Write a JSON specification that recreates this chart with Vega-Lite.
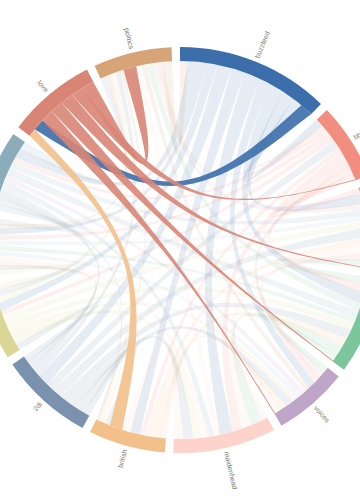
{
  "$schema": "https://vega.github.io/schema/vega-lite/v6.json",
  "width": 360,
  "height": 500,
  "padding": 0,
  "autosize": {"type": "none"},
  "background": "white",
  "config": {"view": {"stroke": null}},
  "data": {"values": [
    {"id":1,"g":"buzzfeed","p":"politics","v":5},{"id":2,"g":"buzzfeed","p":"election","v":7},{"id":3,"g":"buzzfeed","p":"tories","v":5},{"id":4,"g":"buzzfeed","p":"labour","v":6},{"id":5,"g":"buzzfeed","p":"2di","v":9},{"id":6,"g":"buzzfeed","p":"british","v":8},{"id":7,"g":"buzzfeed","p":"maidenhead","v":10},{"id":8,"g":"buzzfeed","p":"voices","v":7},{"id":9,"g":"buzzfeed","p":"london","v":9},{"id":10,"g":"buzzfeed","p":"uk","v":8},{"id":11,"g":"buzzfeed","p":"bbc","v":6},{"id":12,"g":"buzzfeed","p":"love","v":8},
    {"id":13,"g":"bbc","p":"buzzfeed","v":5},{"id":14,"g":"bbc","p":"politics","v":2.5},{"id":15,"g":"bbc","p":"election","v":3},{"id":16,"g":"bbc","p":"tories","v":3},{"id":17,"g":"bbc","p":"labour","v":3},{"id":18,"g":"bbc","p":"2di","v":5},{"id":19,"g":"bbc","p":"british","v":3},{"id":20,"g":"bbc","p":"maidenhead","v":6},{"id":21,"g":"bbc","p":"voices","v":4},{"id":22,"g":"bbc","p":"london","v":5},{"id":23,"g":"bbc","p":"uk","v":4},{"id":24,"g":"bbc","p":"love","v":0.5},
    {"id":25,"g":"uk","p":"bbc","v":4},{"id":26,"g":"uk","p":"buzzfeed","v":6},{"id":27,"g":"uk","p":"politics","v":3.5},{"id":28,"g":"uk","p":"election","v":4},{"id":29,"g":"uk","p":"tories","v":3},{"id":30,"g":"uk","p":"labour","v":4},{"id":31,"g":"uk","p":"2di","v":6},{"id":32,"g":"uk","p":"british","v":4},{"id":33,"g":"uk","p":"maidenhead","v":6},{"id":34,"g":"uk","p":"voices","v":4},{"id":35,"g":"uk","p":"london","v":5},{"id":36,"g":"uk","p":"love","v":0.5},
    {"id":37,"g":"london","p":"uk","v":5},{"id":38,"g":"london","p":"bbc","v":5},{"id":39,"g":"london","p":"buzzfeed","v":7},{"id":40,"g":"london","p":"politics","v":4.5},{"id":41,"g":"london","p":"election","v":5},{"id":42,"g":"london","p":"tories","v":3},{"id":43,"g":"london","p":"labour","v":4},{"id":44,"g":"london","p":"2di","v":6},{"id":45,"g":"london","p":"british","v":5},{"id":46,"g":"london","p":"maidenhead","v":7},{"id":47,"g":"london","p":"voices","v":4},{"id":48,"g":"london","p":"love","v":0.5},
    {"id":49,"g":"voices","p":"london","v":4},{"id":50,"g":"voices","p":"uk","v":4},{"id":51,"g":"voices","p":"bbc","v":4},{"id":52,"g":"voices","p":"buzzfeed","v":5},{"id":53,"g":"voices","p":"politics","v":3},{"id":54,"g":"voices","p":"election","v":3.5},{"id":55,"g":"voices","p":"tories","v":3},{"id":56,"g":"voices","p":"labour","v":3},{"id":57,"g":"voices","p":"2di","v":5},{"id":58,"g":"voices","p":"british","v":4},{"id":59,"g":"voices","p":"maidenhead","v":4},{"id":60,"g":"voices","p":"love","v":0.5},
    {"id":61,"g":"maidenhead","p":"voices","v":4},{"id":62,"g":"maidenhead","p":"london","v":7},{"id":63,"g":"maidenhead","p":"uk","v":6},{"id":64,"g":"maidenhead","p":"bbc","v":6},{"id":65,"g":"maidenhead","p":"buzzfeed","v":8},{"id":66,"g":"maidenhead","p":"politics","v":3},{"id":67,"g":"maidenhead","p":"election","v":4},{"id":68,"g":"maidenhead","p":"tories","v":4},{"id":69,"g":"maidenhead","p":"labour","v":5},{"id":70,"g":"maidenhead","p":"2di","v":6},{"id":71,"g":"maidenhead","p":"british","v":6},
    {"id":72,"g":"british","p":"voices","v":4},{"id":73,"g":"british","p":"london","v":5},{"id":74,"g":"british","p":"uk","v":4},{"id":75,"g":"british","p":"bbc","v":3},{"id":76,"g":"british","p":"buzzfeed","v":6},{"id":77,"g":"british","p":"maidenhead","v":5},{"id":78,"g":"british","p":"love","v":8},{"id":79,"g":"british","p":"2di","v":3},{"id":80,"g":"british","p":"labour","v":2},{"id":81,"g":"british","p":"tories","v":2},{"id":82,"g":"british","p":"election","v":1},{"id":83,"g":"british","p":"politics","v":1},
    {"id":84,"g":"2di","p":"british","v":4},{"id":85,"g":"2di","p":"maidenhead","v":6},{"id":86,"g":"2di","p":"voices","v":5},{"id":87,"g":"2di","p":"london","v":6},{"id":88,"g":"2di","p":"uk","v":6},{"id":89,"g":"2di","p":"bbc","v":5},{"id":90,"g":"2di","p":"buzzfeed","v":7},{"id":91,"g":"2di","p":"politics","v":3},{"id":92,"g":"2di","p":"election","v":4},{"id":93,"g":"2di","p":"tories","v":4},{"id":94,"g":"2di","p":"labour","v":4},
    {"id":95,"g":"labour","p":"2di","v":4},{"id":96,"g":"labour","p":"british","v":3},{"id":97,"g":"labour","p":"maidenhead","v":5},{"id":98,"g":"labour","p":"voices","v":3},{"id":99,"g":"labour","p":"london","v":4},{"id":100,"g":"labour","p":"uk","v":4},{"id":101,"g":"labour","p":"bbc","v":3},{"id":102,"g":"labour","p":"buzzfeed","v":5},{"id":103,"g":"labour","p":"politics","v":4},{"id":104,"g":"labour","p":"election","v":4},{"id":105,"g":"labour","p":"tories","v":4},
    {"id":106,"g":"tories","p":"labour","v":4},{"id":107,"g":"tories","p":"2di","v":3},{"id":108,"g":"tories","p":"british","v":2},{"id":109,"g":"tories","p":"maidenhead","v":4},{"id":110,"g":"tories","p":"voices","v":3},{"id":111,"g":"tories","p":"london","v":3},{"id":112,"g":"tories","p":"uk","v":3},{"id":113,"g":"tories","p":"bbc","v":3},{"id":114,"g":"tories","p":"buzzfeed","v":4},{"id":115,"g":"tories","p":"politics","v":3},{"id":116,"g":"tories","p":"election","v":4},
    {"id":117,"g":"election","p":"tories","v":4},{"id":118,"g":"election","p":"labour","v":4},{"id":119,"g":"election","p":"2di","v":4},{"id":120,"g":"election","p":"british","v":3},{"id":121,"g":"election","p":"maidenhead","v":4},{"id":122,"g":"election","p":"voices","v":3},{"id":123,"g":"election","p":"london","v":5},{"id":124,"g":"election","p":"uk","v":4},{"id":125,"g":"election","p":"bbc","v":3},{"id":126,"g":"election","p":"buzzfeed","v":6},{"id":127,"g":"election","p":"politics","v":5},
    {"id":128,"g":"love","p":"british","v":5},{"id":129,"g":"love","p":"buzzfeed","v":7},{"id":130,"g":"love","p":"voices","v":8},{"id":131,"g":"love","p":"london","v":8},{"id":132,"g":"love","p":"uk","v":8},{"id":133,"g":"love","p":"bbc","v":7},{"id":134,"g":"love","p":"politics","v":8},
    {"id":135,"g":"politics","p":"election","v":4},{"id":136,"g":"politics","p":"tories","v":3},{"id":137,"g":"politics","p":"labour","v":3},{"id":138,"g":"politics","p":"2di","v":3},{"id":139,"g":"politics","p":"british","v":2},{"id":140,"g":"politics","p":"love","v":8},{"id":141,"g":"politics","p":"maidenhead","v":3},{"id":142,"g":"politics","p":"voices","v":3},{"id":143,"g":"politics","p":"london","v":4},{"id":144,"g":"politics","p":"uk","v":3},{"id":145,"g":"politics","p":"bbc","v":3},{"id":146,"g":"politics","p":"buzzfeed","v":6}
  ]},
  "transform": [
    {"window": [{"op": "lag", "field": "g", "as": "pg"}], "sort": [{"field": "id"}]},
    {"calculate": "datum.g === datum.pg ? 0 : 1", "as": "nw"},
    {"window": [{"op": "sum", "field": "nw", "as": "gi"}, {"op": "sum", "field": "v", "as": "cum"}], "sort": [{"field": "id"}], "frame": [null, 0]},
    {"joinaggregate": [{"op": "sum", "field": "v", "as": "tot"}, {"op": "max", "field": "gi", "as": "ng"}]},
    {"calculate": "(2*PI - datum.ng*0.0418879)/datum.tot", "as": "K"},
    {"calculate": "(datum.cum - datum.v)*datum.K + (datum.gi - 1)*0.0418879", "as": "a0"},
    {"calculate": "datum.cum*datum.K + (datum.gi - 1)*0.0418879", "as": "a1"}
  ],
  "layer": [
    {
      "transform": [
        {"calculate": "datum.g < datum.p ? datum.g + '|' + datum.p : datum.p + '|' + datum.g", "as": "key"},
        {"window": [{"op": "last_value", "field": "a0", "as": "b0"}, {"op": "last_value", "field": "a1", "as": "b1"}, {"op": "last_value", "field": "v", "as": "ov"}], "groupby": ["key"], "sort": [{"field": "g"}], "frame": [null, null]},
        {"filter": "datum.g < datum.p"},
        {"filter": "datum.g !== 'love' && datum.p !== 'love'"},
        {"calculate": "datum.v >= datum.ov ? datum.g : datum.p", "as": "cg"},
        {"calculate": "[0,0,0,1,1,1,2,3,3,3,4,4,4,5,0,0,0]", "as": "k"},
        {"calculate": "[0,1,2,3,4,5,6,7,8,9,10,11,12,13,14,15,16]", "as": "o"},
        {"flatten": ["k", "o"]},
        {"calculate": "datum.k === 0 ? datum.a0 : datum.k === 1 ? datum.a1 : datum.k === 3 ? datum.b0 : datum.b1", "as": "ang"},
        {"calculate": "datum.k === 2 ? 189*(sin(datum.a1)+sin(datum.b0))/8 : datum.k === 5 ? 189*(sin(datum.b1)+sin(datum.a0))/8 : 189*sin(datum.ang)", "as": "x"},
        {"calculate": "datum.k === 2 ? 189*(cos(datum.a1)+cos(datum.b0))/8 : datum.k === 5 ? 189*(cos(datum.b1)+cos(datum.a0))/8 : 189*cos(datum.ang)", "as": "y"}
      ],
      "mark": {"type": "line", "filled": true, "interpolate": "basis", "strokeWidth": 0},
      "encoding": {
        "x": {"field": "x", "type": "quantitative", "scale": {"domain": [-180, 180], "nice": false, "zero": false}, "axis": null},
        "y": {"field": "y", "type": "quantitative", "scale": {"domain": [-250, 250], "nice": false, "zero": false}, "axis": null},
        "detail": {"field": "key"},
        "order": {"field": "o", "type": "quantitative"},
        "color": {"field": "cg", "type": "nominal", "legend": null,
          "scale": {"domain": ["buzzfeed","bbc","uk","london","voices","maidenhead","british","2di","labour","tories","election","love","politics"],
                    "range": ["#3b6eaa","#f28e7f","#e9a3a6","#7cc69b","#bfa6c9","#fdd3cc","#f3c08b","#7a92ad","#dbd596","#afc7d8","#8badb9","#d98575","#d6a476"]}},
        "opacity": {"value": 0.13}
      }
    },
    {
      "transform": [
        {"calculate": "datum.g < datum.p ? datum.g + '|' + datum.p : datum.p + '|' + datum.g", "as": "key"},
        {"window": [{"op": "last_value", "field": "a0", "as": "b0"}, {"op": "last_value", "field": "a1", "as": "b1"}, {"op": "last_value", "field": "v", "as": "ov"}], "groupby": ["key"], "sort": [{"field": "g"}], "frame": [null, null]},
        {"filter": "datum.g < datum.p"},
        {"filter": "datum.g === 'love' || datum.p === 'love'"},
        {"calculate": "datum.v >= datum.ov ? datum.g : datum.p", "as": "cg"},
        {"calculate": "[0,0,0,1,1,1,2,3,3,3,4,4,4,5,0,0,0]", "as": "k"},
        {"calculate": "[0,1,2,3,4,5,6,7,8,9,10,11,12,13,14,15,16]", "as": "o"},
        {"flatten": ["k", "o"]},
        {"calculate": "datum.k === 0 ? datum.a0 : datum.k === 1 ? datum.a1 : datum.k === 3 ? datum.b0 : datum.b1", "as": "ang"},
        {"calculate": "datum.k === 2 ? 189*(sin(datum.a1)+sin(datum.b0))/8 : datum.k === 5 ? 189*(sin(datum.b1)+sin(datum.a0))/8 : 189*sin(datum.ang)", "as": "x"},
        {"calculate": "datum.k === 2 ? 189*(cos(datum.a1)+cos(datum.b0))/8 : datum.k === 5 ? 189*(cos(datum.b1)+cos(datum.a0))/8 : 189*cos(datum.ang)", "as": "y"}
      ],
      "mark": {"type": "line", "filled": true, "interpolate": "basis", "strokeWidth": 0},
      "encoding": {
        "x": {"field": "x", "type": "quantitative"},
        "y": {"field": "y", "type": "quantitative"},
        "detail": {"field": "key"},
        "order": {"field": "o", "type": "quantitative"},
        "color": {"field": "cg", "type": "nominal", "legend": null},
        "opacity": {"value": 0.9}
      }
    },
    {
      "transform": [
        {"aggregate": [{"op": "min", "field": "a0", "as": "ga0"}, {"op": "max", "field": "a1", "as": "ga1"}], "groupby": ["g"]}
      ],
      "mark": {"type": "arc", "outerRadius": 203, "innerRadius": 189},
      "encoding": {
        "theta": {"field": "ga0", "type": "quantitative", "stack": null, "scale": {"domain": [0, 6.283185307179586], "range": [0, 6.283185307179586]}},
        "theta2": {"field": "ga1"},
        "color": {"field": "g", "type": "nominal", "legend": null}
      }
    },
    {
      "transform": [
        {"aggregate": [{"op": "min", "field": "a0", "as": "ga0"}, {"op": "max", "field": "a1", "as": "ga1"}], "groupby": ["g"]},
        {"calculate": "(datum.ga0 + datum.ga1)/2", "as": "mid"},
        {"filter": "datum.mid < PI"},
        {"calculate": "datum.mid*180/PI - 90", "as": "ta"}
      ],
      "mark": {"type": "text", "radius": 207, "align": "left", "baseline": "middle", "fontSize": 7, "font": "Liberation Sans", "color": "#777"},
      "encoding": {
        "theta": {"field": "mid", "type": "quantitative", "stack": null},
        "text": {"field": "g"},
        "angle": {"field": "ta", "type": "quantitative", "scale": null}
      }
    },
    {
      "transform": [
        {"aggregate": [{"op": "min", "field": "a0", "as": "ga0"}, {"op": "max", "field": "a1", "as": "ga1"}], "groupby": ["g"]},
        {"calculate": "(datum.ga0 + datum.ga1)/2", "as": "mid"},
        {"filter": "datum.mid >= PI"},
        {"calculate": "datum.mid*180/PI + 90", "as": "ta"}
      ],
      "mark": {"type": "text", "radius": 207, "align": "right", "baseline": "middle", "fontSize": 7, "font": "Liberation Sans", "color": "#777"},
      "encoding": {
        "theta": {"field": "mid", "type": "quantitative", "stack": null},
        "text": {"field": "g"},
        "angle": {"field": "ta", "type": "quantitative", "scale": null}
      }
    }
  ]
}
